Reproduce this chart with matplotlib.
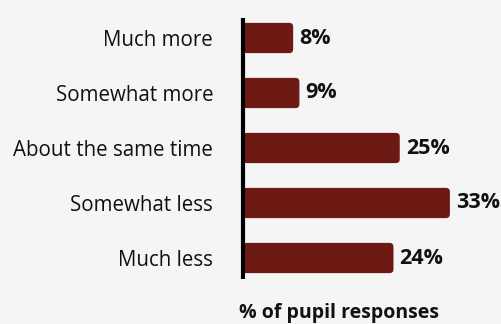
import matplotlib
matplotlib.use("Agg")
import matplotlib.pyplot as plt
from matplotlib.patches import FancyBboxPatch, Rectangle

categories = ["Much more", "Somewhat more", "About the same time", "Somewhat less", "Much less"]
values = [8, 9, 25, 33, 24]
value_labels = ["8%", "9%", "25%", "33%", "24%"]
xlabel = "% of pupil responses"

BG = "#f5f5f5"
BAR = "#6d1914"
FONT = ["Open Sans", "DejaVu Sans"]

W, H = 502, 324
fig = plt.figure(figsize=(W / 100, H / 100), dpi=100, facecolor=BG)

# axes placed in pixel terms: x from 243 px to right edge, rows 55 px apart
left_px, right_px = 243, 502
top_px, bot_px = 10.5, 285.5
ax = fig.add_axes([left_px / W, 1 - bot_px / H, (right_px - left_px) / W, (bot_px - top_px) / H])
ax.set_facecolor(BG)

px_per_unit = 6.27
xmax = (right_px - left_px) / px_per_unit
ax.set_xlim(0, xmax)
ax.set_ylim(len(categories) - 0.5, -0.5)

bar_h = 0.55
radius = 4 / px_per_unit
aspect = px_per_unit / 55.0
for i, v in enumerate(values):
    y0 = i - bar_h / 2
    ax.add_patch(FancyBboxPatch((0, y0), v, bar_h,
                                boxstyle=f"round,pad=0,rounding_size={radius}",
                                mutation_aspect=aspect, facecolor=BAR,
                                edgecolor="none", zorder=2))
    ax.add_patch(Rectangle((0, y0), v / 2, bar_h, facecolor=BAR,
                           edgecolor="none", zorder=2))
    ax.text(v + 6 / px_per_unit, i, value_labels[i], ha="left", va="center",
            fontsize=15.5, fontweight="bold", color="#111111", family=FONT)

ax.set_yticks(range(len(categories)))
ax.set_yticklabels(categories, fontsize=14.8, color="#111111", family=FONT)
ax.tick_params(axis="y", length=0, pad=21.5)
ax.set_xticks([])
for s in ax.spines.values():
    s.set_visible(False)

# vertical baseline
ax.plot([0, 0], [-0.36, 4.38], color="#000000", lw=3, solid_capstyle="butt",
        zorder=3, clip_on=False)

fig.text(339 / W, 1 - 313 / H, xlabel, ha="center", va="center",
         fontsize=14, fontweight="bold", color="#111111", family=FONT)

fig.savefig("out.png", dpi=100, facecolor=BG)
